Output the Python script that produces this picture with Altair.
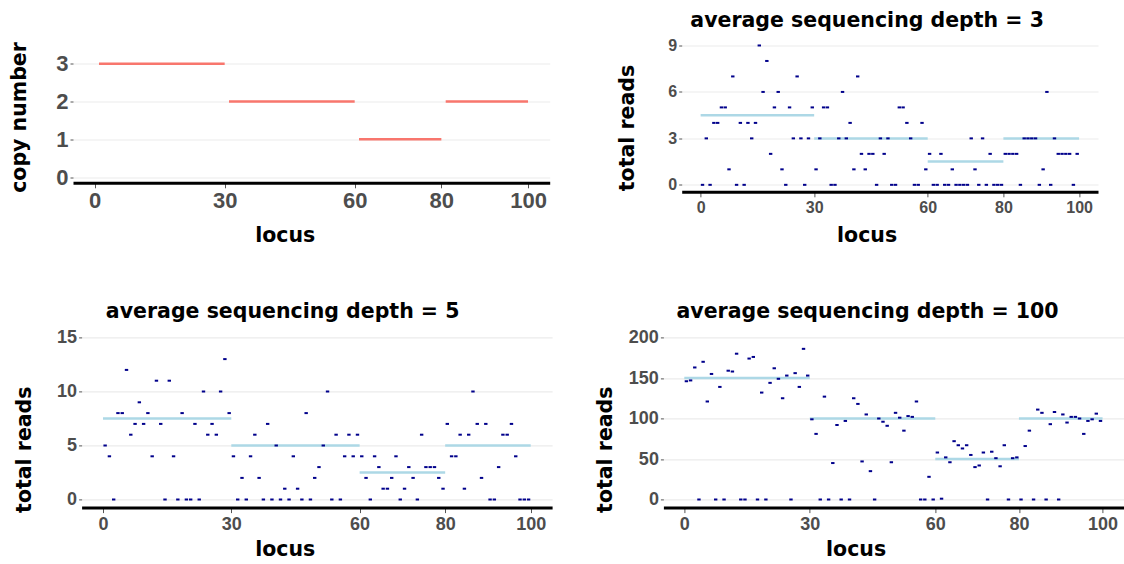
import altair as alt
import pandas as pd

# ---------------- data ----------------
cn_start = [1, 31, 61, 81]
cn_end = [30, 60, 80, 100]
cn_value = [3, 2, 1, 2]

seg_start = [0, 30, 60, 80]
seg_end = [30, 60, 80, 100]
seg_depth3 = [4.5, 3, 1.5, 3]
seg_depth5 = [7.5, 5, 2.5, 5]
seg_depth100 = [150, 100, 50, 100]

reads_depth3 = [0, 3, 0, 4, 4, 5, 5, 1, 7, 0,
                4, 0, 4, 3, 4, 9, 6, 8, 2, 5,
                6, 1, 0, 5, 3, 7, 3, 0, 3, 5,
                1, 3, 5, 5, 0, 0, 3, 6, 3, 4,
                1, 7, 2, 1, 2, 2, 0, 3, 2, 3,
                0, 0, 5, 5, 4, 3, 0, 0, 4, 1,
                2, 0, 0, 2, 0, 0, 1, 0, 0, 0,
                0, 3, 1, 0, 3, 0, 2, 0, 0, 0,
                2, 2, 2, 2, 0, 3, 3, 3, 3, 0,
                1, 6, 0, 3, 2, 2, 2, 2, 0, 2]

reads_depth5 = [5, 4, 0, 8, 8, 12, 6, 7, 9, 7,
                8, 4, 11, 7, 0, 11, 4, 0, 8, 0,
                0, 7, 0, 10, 6, 7, 6, 10, 13, 8,
                4, 0, 2, 0, 4, 6, 2, 0, 7, 0,
                5, 0, 1, 0, 4, 1, 0, 8, 0, 2,
                3, 5, 10, 0, 6, 0, 4, 6, 4, 6,
                4, 2, 0, 4, 3, 1, 1, 2, 4, 0,
                1, 3, 2, 0, 6, 3, 3, 3, 2, 1,
                7, 4, 4, 6, 1, 6, 10, 7, 2, 7,
                0, 0, 3, 6, 6, 7, 4, 0, 0, 0]

reads_depth100 = [146, 147, 163, 0, 170, 121, 155, 0, 139, 0,
                  159, 158, 180, 0, 0, 174, 176, 0, 132, 0,
                  144, 162, 149, 125, 153, 0, 156, 139, 186, 153,
                  99, 81, 0, 127, 0, 45, 92, 0, 97, 0,
                  125, 118, 47, 105, 35, 0, 100, 96, 91, 46,
                  107, 101, 85, 103, 102, 121, 0, 0, 28, 0,
                  58, 1, 52, 46, 72, 67, 63, 67, 55, 40,
                  42, 58, 0, 59, 51, 41, 67, 0, 51, 52,
                  0, 66, 85, 0, 111, 107, 0, 93, 108, 0,
                  105, 95, 102, 102, 100, 81, 97, 99, 106, 97]

locus = [i + 0.5 for i in range(100)]
x_ticks = [0, 30, 60, 80, 100]

TITLE_FONT = "DejaVu Sans"
TITLE_SIZE = 20.5
LABEL_FONT = "Liberation Sans"
LABEL_COLOR = "#4D4D4D"
GRID = "#EBEBEB"
TICK = "#555555"


def x_axis(label_size, label_pad, tx, ty):
    return alt.Axis(values=x_ticks, title="locus", grid=False,
                    domain=True, domainColor="black", domainWidth=3,
                    ticks=True, tickSize=5, tickColor=TICK, tickWidth=1,
                    labelFont=LABEL_FONT, labelFontWeight="bold",
                    labelFontSize=label_size, labelColor=LABEL_COLOR,
                    labelPadding=label_pad,
                    titleFont=TITLE_FONT, titleFontWeight="bold",
                    titleFontSize=TITLE_SIZE, titleColor="black",
                    titleX=tx, titleY=ty, titleAlign="center",
                    titleBaseline="middle", titleAngle=0)


def y_axis(values, major, label_size, title, tx, ty, offset):
    return alt.Axis(values=values, title=title, offset=offset,
                    labelExpr=f"datum.value % {major} == 0 ? datum.label : ''",
                    grid=True, gridColor=GRID, gridWidth=1.1,
                    domain=False, ticks=True, tickSize=3, tickColor=TICK,
                    tickWidth=1,
                    tickOpacity={"condition": {"test": f"datum.value % {major} != 0", "value": 0}, "value": 1},
                    labelFont=LABEL_FONT, labelFontWeight="bold",
                    labelFontSize=label_size, labelColor=LABEL_COLOR,
                    labelPadding=2,
                    titleFont=TITLE_FONT, titleFontWeight="bold",
                    titleFontSize=TITLE_SIZE, titleColor="black",
                    titleX=tx, titleY=ty, titleAlign="center",
                    titleBaseline="middle", titleAngle=270)


# ---------------- panel 1: copy number ----------------
cn_df = pd.DataFrame({"start": cn_start, "end": cn_end, "cn": cn_value})
p1 = alt.Chart(cn_df).mark_rule(color="#F8766D", strokeWidth=2.5).encode(
    x=alt.X("start:Q", scale=alt.Scale(domain=[-5, 105], nice=False, zero=False),
            axis=x_axis(22, 3, 211.7, 52.2)),
    x2="end:Q",
    y=alt.Y("cn:Q", scale=alt.Scale(domain=[-0.15, 3.15], nice=False, zero=False,
                                    range=[144.3, 19.6]),
            axis=y_axis([0, 1, 2, 3], 1, 22, "copy number", -53.3, 78.5, 0)),
).properties(width=476.7, height=144.3)


def scatter_panel(reads, seg_vals, depth, ydom, yvals, major, lsize, lpad,
                  w, h, xrange, xt, yt, tdx, ytx, yty, yoff):
    pts = pd.DataFrame({"locus": locus, "reads": reads})
    seg = pd.DataFrame({"start": seg_start, "end": seg_end, "level": seg_vals})
    xs = alt.Scale(domain=[-5, 105], nice=False, zero=False, range=xrange)
    ys = alt.Scale(domain=ydom, nice=False, zero=False)
    segs = alt.Chart(seg).mark_rule(color="#ADD8E6", strokeWidth=2.5).encode(
        x=alt.X("start:Q", scale=xs, axis=x_axis(lsize, lpad, xt, yt)),
        x2="end:Q",
        y=alt.Y("level:Q", scale=ys,
                axis=y_axis(yvals, major, lsize, "total reads", ytx, yty, yoff)),
    )
    dots = alt.Chart(pts).mark_tick(orient="horizontal", size=3.4, thickness=2,
                                     color="#00008B", opacity=1).encode(
        x=alt.X("locus:Q", scale=xs),
        y=alt.Y("reads:Q", scale=ys),
    )
    return alt.layer(segs, dots).properties(
        width=w, height=h,
        title=alt.TitleParams(f"average sequencing depth = {depth}",
                              font=TITLE_FONT, fontWeight="bold",
                              fontSize=TITLE_SIZE, color="black",
                              anchor="middle", frame="group",
                              dx=tdx, offset=6),
    )


p2 = scatter_panel(reads_depth3, seg_depth3, 3, [-0.45, 9.45],
                   [0, 1.5, 3, 4.5, 6, 7.5, 9], 3, 16, 3,
                   434.6, 153.3, [18.3, 434.6], 203.2, 43.7, -13.6, -54.1, 89, -18.3)
p3 = scatter_panel(reads_depth5, seg_depth5, 5, [-0.75, 15.75],
                   [0, 2.5, 5, 7.5, 10, 12.5, 15], 5, 18, 3,
                   479.1, 178.2, [8.6, 479.1], 211.7, 41.6, -29.9, -56.9, 119.8, -8.6)
p4 = scatter_panel(reads_depth100, seg_depth100, 100, [-10, 210],
                   [0, 25, 50, 75, 100, 125, 150, 175, 200], 50, 18, 3,
                   460.1, 178.2, [0, 460.1], 192.2, 41.6, -25.9, -57.8, 119.8, 0)

chart = alt.concat(
    p1, p2, p3, p4, columns=2, bounds="flush",
    spacing={"row": 136.9, "column": 110.4},
).resolve_scale(
    x="independent", y="independent"
).properties(
    padding={"left": 9, "top": 10.5, "right": 0, "bottom": 0},
    background="white",
).configure_view(stroke=None)

chart.save("out.html", embed_options={"renderer": "svg", "actions": False})
